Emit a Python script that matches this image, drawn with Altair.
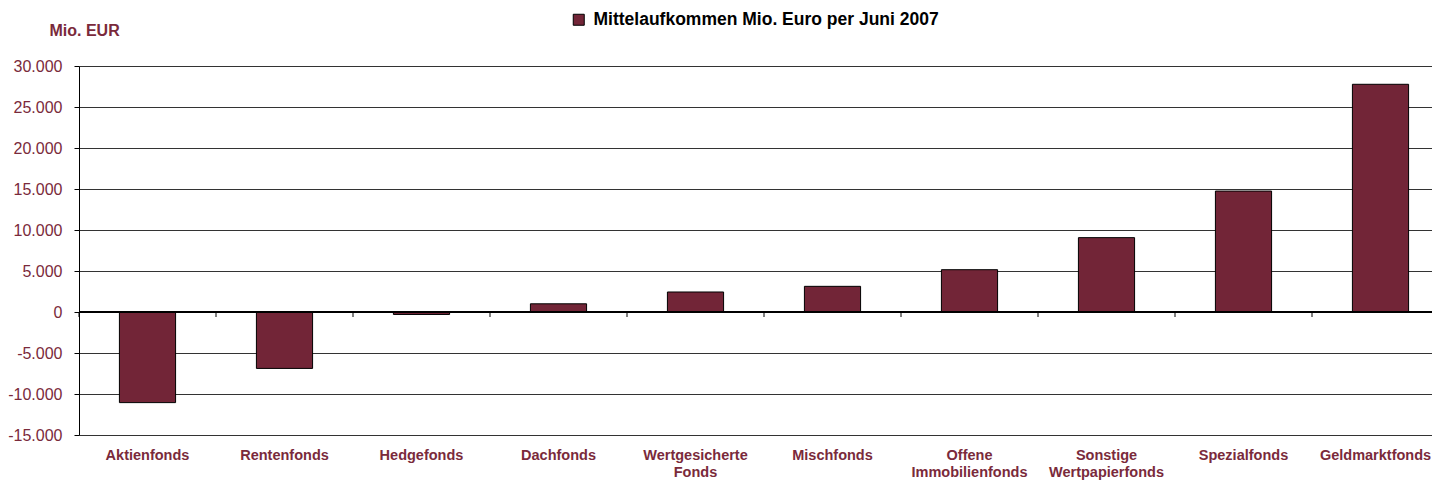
import altair as alt
import pandas as pd

categories = ["Aktienfonds", "Rentenfonds", "Hedgefonds", "Dachfonds",
              "Wertgesicherte Fonds", "Mischfonds", "Offene Immobilienfonds",
              "Sonstige Wertpapierfonds", "Spezialfonds", "Geldmarktfonds"]
values = [-11050, -6880, -300, 1000, 2440, 3130, 5160, 9070, 14750, 27770]
series_name = "Mittelaufkommen Mio. Euro per Juni 2007"
y_ticks = [-15000, -10000, -5000, 0, 5000, 10000, 15000, 20000, 25000, 30000]

df = pd.DataFrame({"Fonds": categories, "Wert": values, "Serie": series_name})

BAR = "#722537"
TXT = "#7a2a3b"
FONT = "Liberation Sans"

# the category axis of the original runs past the right edge of the picture
xscale = alt.Scale(paddingInner=0, paddingOuter=0, range=[0, 1370])
yscale = alt.Scale(domain=[-15000, 30000], nice=False)

xaxis = alt.Axis(title=None, labelAngle=0,
                 labelExpr="split(datum.label, ' ')",
                 labelFont=FONT, labelFontSize=14.5, labelFontWeight="bold",
                 labelColor=TXT, labelBaseline="top", labelPadding=13,
                 labelLineHeight=17, ticks=False, domain=False,
                 labelLimit=300,
                 labelOffset=alt.condition("datum.value == 'Geldmarktfonds'",
                                           alt.value(-5), alt.value(0)))
yaxis = alt.Axis(values=y_ticks, title="Mio. EUR", titleAngle=0,
                 titleX=-30, titleY=-36, titleAlign="left",
                 titleBaseline="middle", titleFont=FONT,
                 titleFontSize=16, titleFontWeight="bold",
                 titleColor=TXT, labelFont=FONT, labelFontSize=16,
                 labelColor=TXT, labelPadding=12, tickSize=5,
                 tickColor="black", domainColor="black",
                 gridColor="#333333",
                 labelExpr="replace(replace(format(datum.value, ','), ',', '.'), '\u2212', '-')")

base = alt.Chart(df)

bars = base.mark_bar(
    width=alt.RelativeBandSize(0.41), stroke="black", strokeWidth=1
).encode(
    x=alt.X("Fonds:N", sort=categories, scale=xscale, axis=xaxis),
    y=alt.Y("Wert:Q", scale=yscale, axis=yaxis),
    color=alt.Color("Serie:N", scale=alt.Scale(range=[BAR]),
                    legend=alt.Legend(title=None, orient="none", legendX=491,
                                      legendY=-55, symbolType="square",
                                      symbolSize=121, symbolStrokeColor="black",
                                      symbolStrokeWidth=1, labelFont=FONT,
                                      labelFontSize=17.5, labelFontWeight="bold",
                                      labelColor="black", labelOffset=6,
                                      padding=0, labelLimit=600)),
)

zline = base.mark_rule(color="black", strokeWidth=1).encode(
    y=alt.Y(datum=0, type="quantitative", scale=yscale, axis=yaxis)
)

xticks = base.mark_rule(color="black", strokeWidth=1).encode(
    x=alt.X("Fonds:N", sort=categories, scale=xscale, bandPosition=0, axis=xaxis),
    y=alt.Y(datum=0, type="quantitative", scale=yscale, axis=yaxis),
    y2=alt.datum(-610),
)

chart = alt.layer(bars, zline, xticks).properties(
    width=1353, height=369,
    autosize=alt.AutoSizeParams(type="none"),
    padding={"left": 71, "top": 58, "right": 0, "bottom": 45},
).configure_view(stroke=None)

chart.save("out.html", embed_options={"renderer": "svg", "actions": False})
